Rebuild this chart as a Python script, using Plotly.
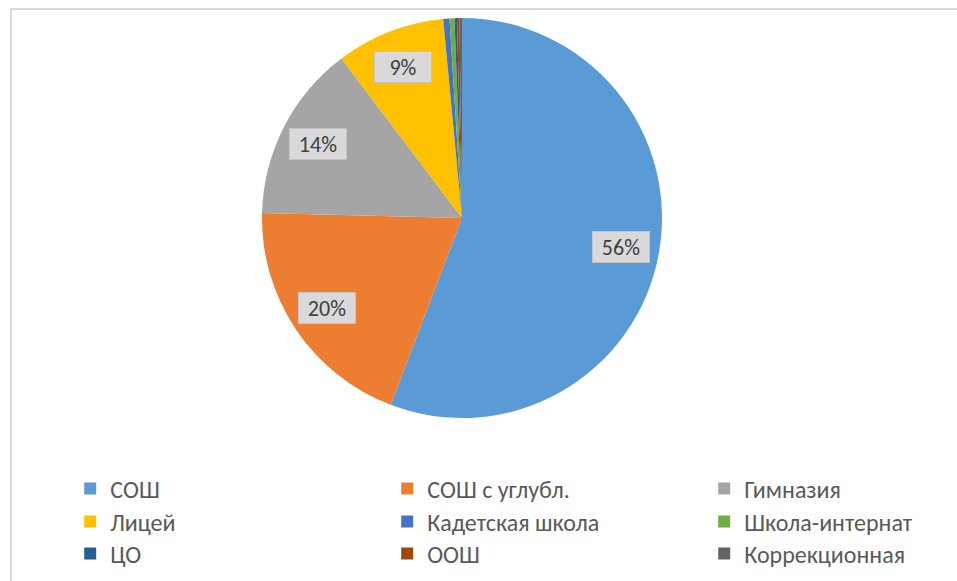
import math
import plotly.graph_objects as go

# school types and their share of the total (%)
labels = ["СОШ", "СОШ с углубл.", "Гимназия", "Лицей", "Кадетская школа",
          "Школа-интернат", "ЦО", "ООШ", "Коррекционная"]
values = [55.8, 19.6, 14.3, 8.8, 0.5, 0.4, 0.2, 0.2, 0.2]
colors = ["#5B9BD5", "#ED7D31", "#A5A5A5", "#FFC000", "#4472C4",
          "#70AD47", "#255E91", "#9E480E", "#636363"]

W, H = 957, 581
FONT = "Carlito, Calibri, 'Open Sans', sans-serif"

# pie placement (pixels -> paper)
cx, cy, R = 462, 218, 200
dom_x = [(cx - R) / W, (cx + R) / W]
dom_y = [1 - (cy + R) / H, 1 - (cy - R) / H]

fig = go.Figure()

# legend: three rows of three entries, one legend per row.
# the legend-only pies are tiny and sit under the centre of the real pie
tiny = 2
for row in range(3):
    sl = slice(row * 3, row * 3 + 3)
    fig.add_trace(go.Pie(
        labels=labels[sl], values=values[sl], sort=False,
        marker=dict(colors=colors[sl], line=dict(width=0)),
        textinfo="none", hoverinfo="skip",
        domain=dict(x=[(cx - tiny) / W, (cx + tiny) / W],
                    y=[1 - (cy + tiny) / H, 1 - (cy - tiny) / H]),
        legend="legend" if row == 0 else f"legend{row + 1}",
    ))

fig.add_trace(go.Pie(
    labels=labels, values=values, sort=False, direction="clockwise",
    rotation=0, marker=dict(colors=colors, line=dict(width=0)),
    textinfo="none", hoverinfo="label+percent", showlegend=False,
    domain=dict(x=dom_x, y=dom_y),
))

# percentage labels with grey boxes, placed at the middle of each big slice
total = sum(values)
acc = 0
for v in values:
    mid = (acc + v / 2) / total * 2 * math.pi
    acc += v
    if v / total < 0.05:
        continue
    r = 0.81 * R
    fig.add_annotation(
        x=(cx + r * math.sin(mid)) / W, y=1 - (cy - r * math.cos(mid)) / H,
        xref="paper", yref="paper", xanchor="center", yanchor="middle",
        showarrow=False, text=f"{round(v / total * 100)}%",
        font=dict(family=FONT, size=22, color="#404040"),
        width=50, height=24, bgcolor="#D9D9D9",
        bordercolor="#C4C4C4", borderwidth=1, borderpad=3,
    )

# chart area frame (only top and left edges visible)
fig.add_shape(type="rect", xref="paper", yref="paper",
              x0=11 / W, x1=1.1, y0=-0.1, y1=1 - 9 / H,
              line=dict(color="#D9D9D9", width=2), layer="below")

leg = dict(orientation="h", x=0.065 + 8 / W, xanchor="left", yanchor="middle",
           entrywidth=272, font=dict(family=FONT, size=24, color="#595959"),
           bgcolor="rgba(0,0,0,0)")
fig.update_layout(
    width=W, height=H,
    margin=dict(l=0, r=0, t=0, b=0, autoexpand=False),
    paper_bgcolor="white", plot_bgcolor="white",
    font=dict(family=FONT, color="#595959"),
    legend=dict(leg, y=1 - 489 / H),
    legend2=dict(leg, y=1 - 522 / H),
    legend3=dict(leg, y=1 - 554 / H),
)

fig.write_html("out.html", config={"displayModeBar": False},
               post_script="document.body.style.margin='0';"
                           "document.body.style.overflow='hidden';")
